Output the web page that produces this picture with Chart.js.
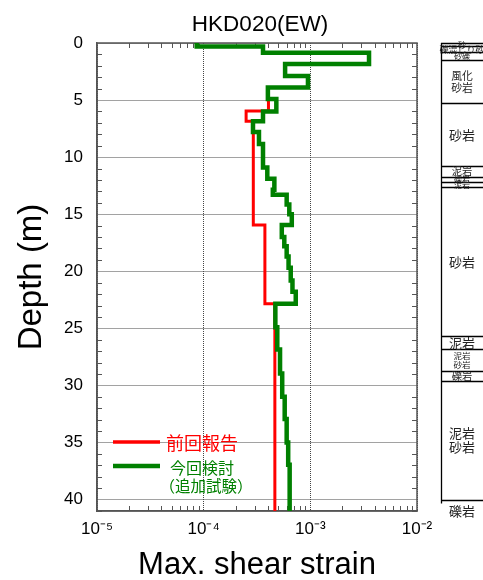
<!DOCTYPE html>
<html><head><meta charset="utf-8">
<script src="https://cdn.jsdelivr.net/npm/chart.js@4.4.1/dist/chart.umd.min.js"></script>
<style>html,body{margin:0;padding:0;background:#fff;}#wrap{width:483px;height:580px;}</style>
</head><body><div id="wrap"><canvas id="c" width="483" height="580"></canvas></div>
<script>
const chartTitle = 'HKD020(EW)';
const xAxisTitle = 'Max. shear strain';
const yAxisTitle = 'Depth (m)';
const seriesLabels = ['前回報告', ['今回検討', '（追加試験）']];

// 前回報告: layer boundary depths (m) and max shear strain of each layer
const prevDepths = [0, 0.3, 0.85, 1.85, 2.9, 3.9, 4.9, 5.95, 6.85, 15.95, 22.85, 41];
const prevStrain = [8.6e-5, 3.6e-4, 3.55e-3, 5.8e-4, 9.5e-4, 4.0e-4, 4.05e-4, 2.5e-4, 2.92e-4, 3.75e-4, 4.65e-4];

// 今回検討（追加試験）
const currDepths = [0, 0.3, 0.85, 1.85, 2.9, 3.9, 4.9, 6.0, 6.85, 7.8, 8.85, 10.9, 11.9, 12.85, 13.3, 14.15, 15.0, 15.95, 17.0, 17.8, 18.7, 19.7, 20.8, 21.8, 22.85, 24.9, 26.85, 28.95, 31.0, 32.95, 35.0, 36.95, 41];
const currStrain = [8.6e-5, 3.6e-4, 3.55e-3, 5.8e-4, 9.5e-4, 4.0e-4, 4.8e-4, 3.6e-4, 2.9e-4, 3.3e-4, 3.6e-4, 3.95e-4, 4.6e-4, 4.45e-4, 6.0e-4, 6.35e-4, 6.7e-4, 5.4e-4, 5.7e-4, 6.0e-4, 6.25e-4, 6.55e-4, 6.8e-4, 7.3e-4, 4.7e-4, 4.9e-4, 5.2e-4, 5.45e-4, 5.75e-4, 6.0e-4, 6.2e-4, 6.4e-4];

const xTickValues = [1e-5, 1e-4, 1e-3, 1e-2];
const xTickLabels = ['10⁻⁵', '10⁻⁴', '10⁻³', '10⁻²'];
const yTickValues = [0, 5, 10, 15, 20, 25, 30, 35, 40];

// geological column
const geoDepths = [0, 0.3, 0.8, 1.5, 5.3, 10.8, 11.7, 12.2, 12.6, 25.7, 26.85, 28.7, 29.6, 40, 42];
const geoNames = ['砂', '礫混じり砂', '砂礫', '風化\n砂岩', '砂岩', '泥岩', '礫岩', '泥岩', '砂岩', '泥岩', '泥岩\n砂岩', '礫岩', '泥岩\n砂岩', '礫岩'];

function stepProfile(depths, values) {
  const pts = [];
  values.forEach((v, i) => { pts.push({x: v, y: depths[i]}); pts.push({x: v, y: depths[i + 1]}); });
  return pts;
}

const FONT = "'Liberation Sans', Arial, 'Noto Sans CJK JP', sans-serif";
const CJK = "'Noto Sans CJK JP', 'Liberation Sans', sans-serif";
Chart.defaults.font.family = FONT;
Chart.defaults.color = '#000';

const titlePlugin = {
  id: 'areaTitle',
  afterDraw(chart) {
    const {ctx, chartArea: a} = chart;
    ctx.save();
    ctx.fillStyle = '#000';
    ctx.font = '22.5px ' + FONT;
    ctx.textAlign = 'center';
    ctx.textBaseline = 'middle';
    ctx.fillText(chartTitle, (a.left + a.right) / 2 + 3, 25);
    ctx.restore();
  }
};

const framePlugin = {
  id: 'frame',
  beforeDatasetsDraw(chart) {
    const {ctx, chartArea: a, scales: {x, y}} = chart;
    ctx.save();
    ctx.strokeStyle = '#555';
    ctx.lineWidth = 1;
    ctx.beginPath();
    for (let e = -5; e < -2; e++) {
      for (let m = 2; m <= 9; m++) {
        const px = Math.round(x.getPixelForValue(m * Math.pow(10, e))) + 0.5;
        ctx.moveTo(px, a.top); ctx.lineTo(px, a.top + 5);
        ctx.moveTo(px, a.bottom); ctx.lineTo(px, a.bottom - 5);
      }
    }
    for (let d = 1; d <= 41; d++) {
      if (d % 5 === 0) continue;
      const py = Math.round(y.getPixelForValue(d)) + 0.5;
      ctx.moveTo(a.left, py); ctx.lineTo(a.left + 5, py);
      ctx.moveTo(a.right, py); ctx.lineTo(a.right - 5, py);
    }
    ctx.stroke();
    ctx.lineWidth = 1.5;
    ctx.strokeStyle = '#555';
    ctx.strokeRect(a.left, a.top, a.right - a.left, a.bottom - a.top);
    ctx.restore();
  }
};

const legendPlugin = {
  id: 'insideLegend',
  afterDraw(chart) {
    const {ctx, chartArea: a} = chart;
    const ds = chart.data.datasets;
    ctx.save();
    const x0 = a.left + 16, x1 = a.left + 63;
    let yy = a.top + 399;
    ctx.strokeStyle = ds[0].borderColor; ctx.lineWidth = 3.5; ctx.lineCap = 'butt';
    ctx.beginPath(); ctx.moveTo(x0, yy); ctx.lineTo(x1, yy); ctx.stroke();
    ctx.fillStyle = ds[0].borderColor; ctx.font = '18px ' + CJK; ctx.textBaseline = 'middle'; ctx.textAlign = 'left';
    ctx.fillText(seriesLabels[0], a.left + 69, yy + 1);
    yy = a.top + 423;
    ctx.strokeStyle = ds[1].borderColor; ctx.lineWidth = 4.5;
    ctx.beginPath(); ctx.moveTo(x0, yy); ctx.lineTo(x1, yy); ctx.stroke();
    ctx.fillStyle = ds[1].borderColor; ctx.font = '16px ' + CJK; ctx.textAlign = 'center';
    ctx.fillText(seriesLabels[1][0], a.left + 105, yy + 2);
    ctx.font = '15.5px ' + CJK;
    ctx.fillText(seriesLabels[1][1], a.left + 109, yy + 20);
    ctx.restore();
  }
};

const geoPlugin = {
  id: 'geoColumn',
  afterDraw(chart) {
    const {ctx, chartArea: a, scales: {y}} = chart;
    const xl = a.right + 24, xr = chart.width, xc = (xl + xr) / 2;
    ctx.save();
    ctx.strokeStyle = '#000';
    ctx.lineWidth = 1.3;
    ctx.beginPath();
    ctx.moveTo(xl + 0.5, y.getPixelForValue(geoDepths[0]));
    ctx.lineTo(xl + 0.5, y.getPixelForValue(geoDepths[geoDepths.length - 2]) + 4);
    for (let i = 0; i < geoDepths.length - 1; i++) {
      const py = Math.round(y.getPixelForValue(geoDepths[i])) + 0.5;
      ctx.moveTo(xl, py); ctx.lineTo(xr, py);
    }
    ctx.stroke();
    ctx.fillStyle = '#222';
    ctx.textAlign = 'center';
    ctx.textBaseline = 'middle';
    geoNames.forEach((name, i) => {
      const top = y.getPixelForValue(geoDepths[i]);
      const bot = y.getPixelForValue(geoDepths[i + 1]);
      const lines = name.split('\n');
      const h = bot - top;
      let fs;
      if (lines.length > 1) fs = Math.max(8.5, Math.min(13, h / lines.length * 0.5));
      else fs = Math.max(8, Math.min(13, h));
      if (lines[0].length >= 5) fs = 9;
      ctx.font = fs + 'px ' + CJK;
      const mid = (top + bot) / 2;
      lines.forEach((ln, k) => {
        ctx.fillText(ln, xc, mid + (k - (lines.length - 1) / 2) * fs * 1.05);
      });
    });
    ctx.restore();
  }
};

new Chart(document.getElementById('c'), {
  type: 'line',
  data: {
    datasets: [
      {label: seriesLabels[0], data: stepProfile(prevDepths, prevStrain), borderColor: '#ff0000', borderWidth: 3, pointRadius: 0, fill: false, tension: 0, borderJoinStyle: 'miter', order: 2},
      {label: seriesLabels[1].join(''), data: stepProfile(currDepths, currStrain), borderColor: '#008000', borderWidth: 4.5, pointRadius: 0, fill: false, tension: 0, borderJoinStyle: 'miter', order: 1}
    ]
  },
  options: {
    responsive: false,
    animation: false,
    layout: {padding: {left: 0, right: 66, top: 43, bottom: 0}},
    plugins: {
      legend: {display: false},
      tooltip: {enabled: false},
      title: {display: false}
    },
    scales: {
      x: {
        type: 'logarithmic', position: 'bottom', min: 1e-5, max: 1e-2,
        afterBuildTicks: s => { s.ticks = xTickValues.map(v => ({value: v})); },
        afterFit: s => { s.height = 69; },
        ticks: {callback: (v, i) => xTickLabels[i], font: {size: 17}, color: '#000', padding: 8, maxRotation: 0, autoSkip: false},
        grid: {color: '#444', lineWidth: 1, drawTicks: false},
        border: {display: true, color: '#555', width: 1.5, dash: [1, 1]},
        title: {display: true, text: xAxisTitle, color: '#000', font: {size: 31}, padding: {top: 0, bottom: -4}}
      },
      y: {
        type: 'linear', reverse: true, min: 0, max: 41,
        afterBuildTicks: s => { s.ticks = yTickValues.map(v => ({value: v})); },
        afterFit: s => { s.width = 97; },
        ticks: {font: {size: 17}, color: '#000', padding: 14, autoSkip: false},
        grid: {color: '#444', lineWidth: 1, drawTicks: false},
        border: {display: true, color: '#555', width: 1.5, dash: [1, 1]},
        title: {display: true, text: yAxisTitle, color: '#000', font: {size: 33}, padding: {top: 12, bottom: 0}}
      }
    }
  },
  plugins: [framePlugin, legendPlugin, geoPlugin, titlePlugin]
});
</script>
</body></html>
